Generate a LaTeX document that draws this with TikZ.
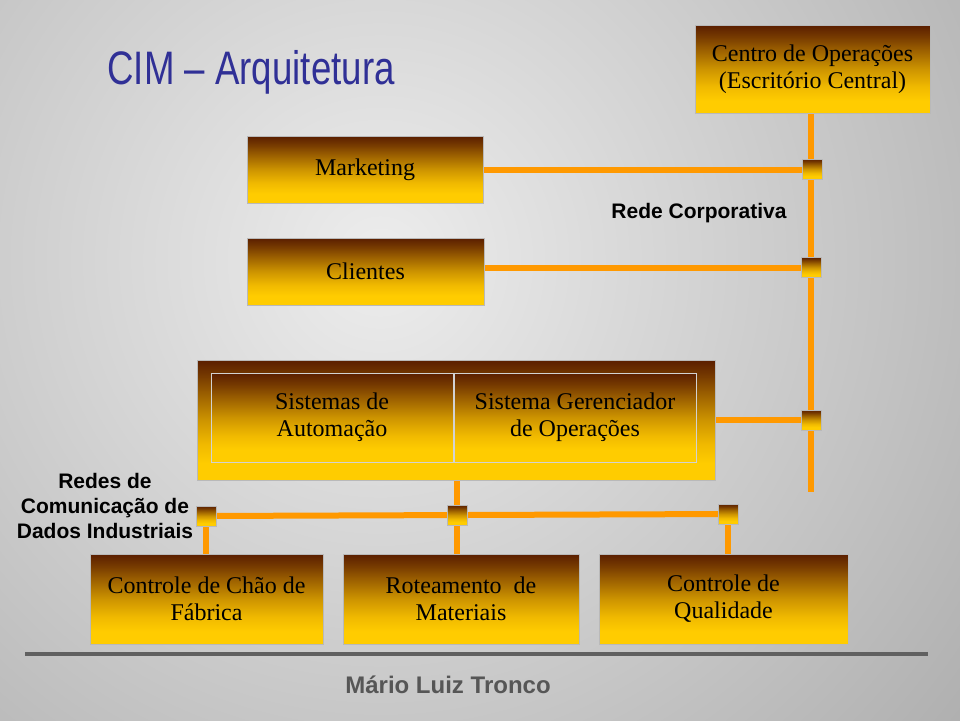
\documentclass[tikz,border=0pt]{standalone}
\usepackage{fontspec}
\setmainfont{Liberation Serif}
\setsansfont{Liberation Sans}
\usetikzlibrary{positioning}
\definecolor{gbrown}{RGB}{90,30,0}
\definecolor{gdark}{RGB}{120,60,0}
\definecolor{gamber}{RGB}{150,90,0}
\definecolor{ggold}{RGB}{205,148,0}
\definecolor{glight}{RGB}{240,185,0}
\definecolor{gyellow}{RGB}{255,204,0}
\definecolor{netorange}{RGB}{255,153,0}
\definecolor{titleblue}{RGB}{48,48,150}
\definecolor{rulegray}{RGB}{96,96,96}
\pgfdeclareverticalshading{boxshade}{100bp}{color(0bp)=(gyellow); color(32bp)=(gyellow); color(40bp)=(glight); color(50bp)=(ggold); color(62bp)=(gamber); color(68bp)=(gdark); color(75bp)=(gbrown); color(100bp)=(gbrown)}
\pgfdeclarelayer{bg}
\pgfdeclarelayer{links}
\pgfsetlayers{bg,links,main}
\begin{document}
\begin{tikzpicture}[x=1pt,y=-1pt,
    gbox/.style={draw=gray!55,line width=0.8pt,shading=boxshade,inner sep=0pt,
      align=center,text=black,font=\fontsize{24}{27}\selectfont},
    netsq/.style={draw=gray!55,line width=0.6pt,shading=boxshade,
      minimum size=20pt,inner sep=0pt},
    link/.style={netorange,line width=6pt},
    lbl/.style={font=\sffamily\bfseries\fontsize{21}{25}\selectfont,align=center}]
  \useasboundingbox (0,0) rectangle (960,720);
  \begin{pgfonlayer}{bg}
    \clip (0,0) rectangle (960,720);
    \shade[inner color=white!93!black,outer color=white!67!black] (380,260) circle (800);
  \end{pgfonlayer}

  % boxes
  \node[gbox,minimum width=235pt,minimum height=88pt] (centro) at (812.5,69)
    {Centro de Operações\\(Escritório Central)};
  \node[gbox,minimum width=236pt,minimum height=67pt] (mkt) at (365,169.5) {Marketing};
  \node[gbox,minimum width=237pt,minimum height=67pt] (cli) at (365.5,271.5) {Clientes};
  \node[gbox,minimum width=518pt,minimum height=120pt] (sis) at (456,420) {};
  \node[gbox,draw=gray!35,minimum width=242pt,minimum height=89pt] (auto) at (332,417.5)
    {Sistemas de\\Automação};
  \node[gbox,draw=gray!35,minimum width=242pt,minimum height=89pt] (sgo) at (575,417.5)
    {Sistema Gerenciador\\de Operações};
  \node[gbox,minimum width=233pt,minimum height=90pt] (cch) at (206.5,599)
    {Controle de Chão de\\Fábrica};
  \node[gbox,minimum width=236pt,minimum height=90pt] (rot) at (461,599)
    {Roteamento\ \ de\\Materiais};
  \node[gbox,minimum width=249pt,minimum height=90pt] (cq) at (723.5,599)
    {Controle de\\Qualidade};

  % network taps
  \node[netsq] (sqa) at (812,169) {};
  \node[netsq] (sqb) at (811,267.5) {};
  \node[netsq] (sqc) at (811,420) {};
  \node[netsq] (sql) at (206,516) {};
  \node[netsq] (sqm) at (457,515) {};
  \node[netsq] (sqr) at (728,514) {};
  \coordinate (trunkend) at (811,492);

  \begin{pgfonlayer}{links}
    \draw[link] (trunkend |- centro.south) -- (trunkend);
    \draw[link] (mkt.east) -- (mkt.east -| sqa.center);
    \draw[link] (sqb.center) -- (sqb.center -| cli.east);
    \draw[link] (sis.east) -- (sqc.center);
    \draw[link] (sql.center) -- (sqr.center);
    \draw[link] (sql.center) -- (sql |- cch.north);
    \draw[link] (sqm |- sis.south) -- (sqm |- rot.north);
    \draw[link] (sqr.center) -- (sqr |- cq.north);
  \end{pgfonlayer}

  % labels
  \node[text=titleblue,font=\sffamily\fontsize{47}{50}\selectfont] (title) at (251,72)
    {\scalebox{0.78}[1]{CIM – Arquitetura}};
  \node[lbl] (redecorp) at (699,213) {Rede Corporativa};
  \node[lbl] (redesind) at (105,506) {Redes de\\Comunicação de\\Dados Industriais};
  \draw[rulegray,line width=4pt] (25,654) -- (928,654);
  \node[text=rulegray!90!black,font=\sffamily\bfseries\fontsize{24}{26}\selectfont] (autor)
    at (448,685) {Mário Luiz Tronco};
\end{tikzpicture}
\end{document}
